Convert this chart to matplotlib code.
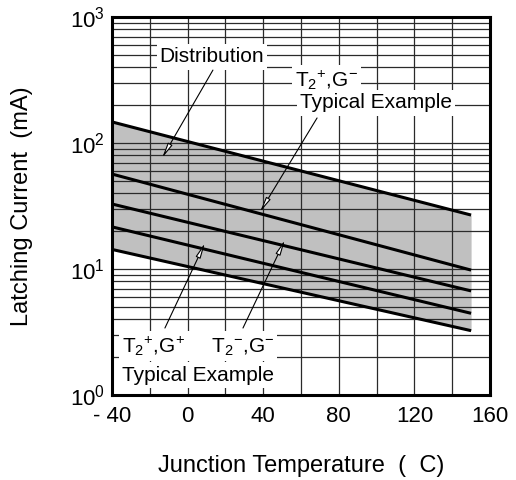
import matplotlib
matplotlib.use("Agg")
import matplotlib.pyplot as plt
from matplotlib.ticker import FixedLocator, FixedFormatter

plt.rcParams['font.family'] = ['Liberation Sans', 'DejaVu Sans']
plt.rcParams['mathtext.fontset'] = 'custom'
plt.rcParams['mathtext.rm'] = 'Liberation Sans'

# ---- data ----
temps = [-40, 150]
band_upper = [147, 26.8]
t2p_gm = [56.7, 9.8]       # T2+,G- typical
t2m_gm = [32.8, 6.7]       # T2-,G- typical
t2p_gp = [21.6, 4.45]      # T2+,G+ typical
band_lower = [14.3, 3.24]

xticks = [-40, 0, 40, 80, 120, 160]
xticklabels = ['- 40', '0', '40', '80', '120', '160']
yticks = [1, 10, 100, 1000]
yticklabels = [r'$\mathregular{10^{0}}$', r'$\mathregular{10^{1}}$',
               r'$\mathregular{10^{2}}$', r'$\mathregular{10^{3}}$']

fig = plt.figure(figsize=(5.16, 4.8), dpi=100)
ax = fig.add_axes([112/516, 85/480, 378/516, 378/480])

ax.set_yscale('log')
ax.set_xlim(-40, 160)
ax.set_ylim(1, 1000)

ax.fill_between(temps, band_lower, band_upper, color='#c0c0c0', lw=0, zorder=1)
for s in (band_upper, t2p_gm, t2m_gm, t2p_gp, band_lower):
    ax.plot(temps, s, color='black', lw=2.2, solid_capstyle='butt', zorder=2)

# grid
ax.xaxis.set_major_locator(FixedLocator(xticks))
ax.xaxis.set_minor_locator(FixedLocator(list(range(-40, 161, 20))))
ax.xaxis.set_major_formatter(FixedFormatter(xticklabels))
ax.yaxis.set_major_locator(FixedLocator(yticks))
ax.yaxis.set_major_formatter(FixedFormatter(yticklabels))
ax.yaxis.set_minor_locator(FixedLocator([m * 10**d for d in range(3) for m in range(2, 10)]))
ax.set_axisbelow('line')
ax.grid(True, which='both', color='#2a2a2a', lw=0.9)
ax.tick_params(which='both', length=0, labelsize=16)
ax.tick_params(axis='x', pad=8)
ax.tick_params(axis='y', pad=5)
ax.yaxis.set_minor_formatter(FixedFormatter([]))
for sp in ax.spines.values():
    sp.set_linewidth(2.2)
    sp.set_zorder(5)

ax.set_xlabel('Junction Temperature  (  C)', fontsize=17, labelpad=20)
ax.set_ylabel('Latching Current  (mA)', fontsize=17, labelpad=27)

box = dict(boxstyle='square,pad=0.15', fc='white', ec='none')
tkw = dict(fontsize=15, zorder=3, bbox=box)

ax.text(12.9, 482, 'Distribution', ha='center', va='center', **tkw)
ax.text(56.8, 316, r'$\mathregular{T_2{}^{+}{,}G^{-}}$', ha='left', va='center', **tkw)
ax.text(59.5, 208, 'Typical Example', ha='left', va='center', **tkw)
ax.text(-34.7, 2.45, r'$\mathregular{T_2{}^{+}{,}G^{+}\ \ \ \ T_2{}^{-}{,}G^{-}}$',
        ha='left', va='center', **tkw)
ax.text(-34.7, 1.44, 'Typical Example', ha='left', va='center', **tkw)

arrows = [((13.4, 379), (-13.5, 76)),
          ((68.5, 158), (38.3, 28.3)),
          ((-12.0, 3.40), (9.2, 16.1)),
          ((29.3, 3.40), (51.5, 17.0))]
for start, tip in arrows:
    ax.annotate('', xy=tip, xytext=start, zorder=4,
                arrowprops=dict(arrowstyle='-|>,head_length=0.9,head_width=0.15',
                                mutation_scale=10, fc='white', ec='black', lw=0.8,
                                shrinkA=0, shrinkB=0))

fig.savefig('out.png', dpi=100)
